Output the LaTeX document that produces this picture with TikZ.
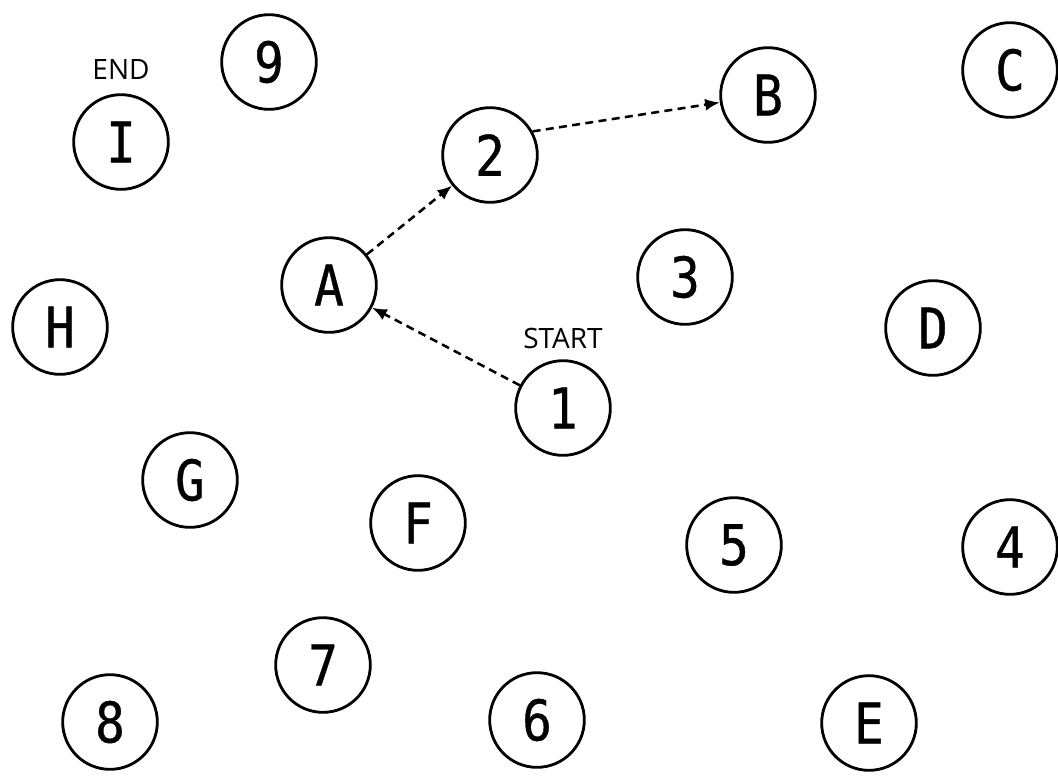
\documentclass[tikz,border=0pt]{standalone}
\usepackage{fontspec}
\setmainfont{Open Sans}
\newfontfamily\circfont[FakeStretch=0.88,FakeBold=0.7]{DejaVu Sans Mono}
\usetikzlibrary{arrows.meta}
\begin{document}
\begin{tikzpicture}[x=0.75pt,y=-0.75pt,
  state/.style={circle,draw,line width=2.1pt,minimum size=71pt,inner sep=0pt,font=\circfont\fontsize{42}{42}\selectfont},
  tag/.style={font=\fontsize{21}{21}\selectfont},
  link/.style={line width=1.9pt,dash pattern=on 6pt off 4pt,-{Latex[length=11pt,width=9pt]}}]
\useasboundingbox (0,0) rectangle (1058,776);
\node[state] (n9) at (269,62) {9};
\node[state] (nI) at (121,142) {I};
\node[tag] (end) at (121,70) {END};
\node[state] (n2) at (490,155) {2};
\node[state] (nB) at (768,95) {B};
\node[state] (nC) at (1010,70) {C};
\node[state] (nA) at (329,285) {A};
\node[state] (n3) at (685,277) {3};
\node[state] (nH) at (60,327) {H};
\node[state] (nD) at (933,328) {D};
\node[tag] (start) at (563,338) {START};
\node[state] (n1) at (563,408) {1};
\node[state] (nG) at (190,480) {G};
\node[state] (nF) at (418,523) {F};
\node[state] (n5) at (734,545) {5};
\node[state] (n4) at (1010,547) {4};
\node[state] (n7) at (323,665) {7};
\node[state] (n6) at (537,720) {6};
\node[state] (nE) at (869,723) {E};
\node[state] (n8) at (110,722) {8};
\draw[link] (n1) -- (nA);
\draw[link] (nA) -- (n2);
\draw[link] (n2.{atan2(155-128,537-490)}) -- (nB);
\end{tikzpicture}
\end{document}
